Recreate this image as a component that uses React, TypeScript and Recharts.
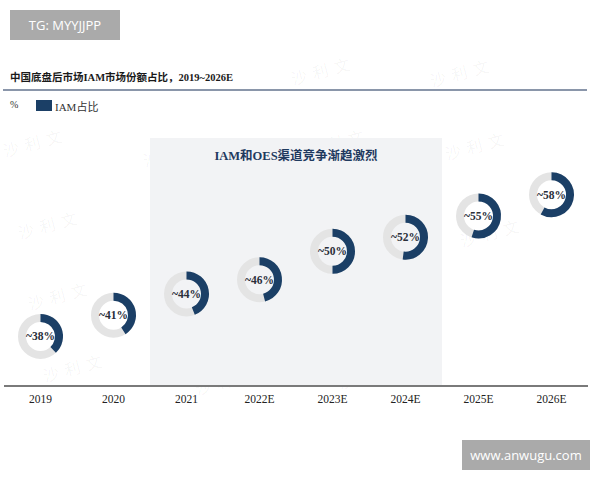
import React from "react";
import {
  ComposedChart,
  ReferenceArea,
  Scatter,
  XAxis,
  YAxis,
} from "recharts";

const years = ["2019", "2020", "2021", "2022E", "2023E", "2024E", "2025E", "2026E"];
const iamShare = [38, 41, 44, 46, 50, 52, 55, 58];
const shareLabels = ["~38%", "~41%", "~44%", "~46%", "~50%", "~52%", "~55%", "~58%"];

const title = "中国底盘后市场IAM市场份额占比，2019~2026E";
const seriesName = "IAM占比";
const highlightText = "IAM和OES渠道竞争渐趋激烈";
const highlightFrom = "2021";
const highlightTo = "2024E";

const NAVY = "#1b3f66";
const TRACK = "#e4e4e4";
const SERIF = "'Liberation Serif', 'Times New Roman', 'Noto Sans CJK SC', serif";

const data = years.map((year, i) => ({
  year,
  value: iamShare[i],
  label: shareLabels[i],
}));

// faint "沙利文" watermarks in the background
const watermarks = [
  [30, 140], [170, 150], [318, 68], [457, 70], [472, 143], [332, 140],
  [45, 222], [190, 222], [342, 228], [487, 230], [55, 293], [215, 293],
  [70, 365], [222, 378], [365, 372],
];

function Donut(props: any) {
  const { cx, cy, payload } = props;
  if (cx == null || cy == null) return null;
  const r = 18.5;
  const p = payload.value / 100;
  const angle = -Math.PI / 2 + p * Math.PI * 2;
  const x1 = cx + r * Math.cos(angle);
  const y1 = cy + r * Math.sin(angle);
  const large = p > 0.5 ? 1 : 0;
  return (
    <g>
      <circle cx={cx} cy={cy} r={r} fill="none" stroke={TRACK} strokeWidth={8} />
      <path
        d={`M ${cx} ${cy - r} A ${r} ${r} 0 ${large} 1 ${x1} ${y1}`}
        fill="none"
        stroke={NAVY}
        strokeWidth={8}
      />
      <text
        x={cx}
        y={cy}
        textAnchor="middle"
        dominantBaseline="central"
        fontFamily={SERIF}
        fontWeight="bold"
        fontSize={11.5}
        fill="#2a2f3a"
      >
        {payload.label}
      </text>
    </g>
  );
}

export default function App() {
  return (
    <div
      style={{
        position: "fixed",
        top: 0,
        left: 0,
        width: 600,
        height: 480,
        background: "#fff",
        overflow: "hidden",
      }}
    >
      {watermarks.map(([x, y], i) => (
        <div
          key={i}
          style={{
            position: "absolute",
            left: x - 28,
            top: y - 10,
            fontFamily: "'Noto Sans CJK SC', sans-serif",
            fontSize: 16,
            letterSpacing: 6,
            color: "rgba(0,0,0,0.045)",
            transform: "rotate(-15deg)",
            whiteSpace: "nowrap",
          }}
        >
          沙利文
        </div>
      ))}

      <div
        style={{
          position: "absolute",
          left: 10,
          top: 10,
          width: 110,
          height: 30,
          background: "#aaaaaa",
          color: "#fff",
          fontFamily: "'Open Sans', sans-serif",
          fontSize: 13,
          lineHeight: "30px",
          textAlign: "center",
        }}
      >
        TG: MYYJJPP
      </div>

      <div
        style={{
          position: "absolute",
          left: 10,
          top: 69,
          fontFamily: SERIF,
          fontWeight: "bold",
          fontSize: 10.5,
          color: "#1a1a1a",
          whiteSpace: "nowrap",
        }}
      >
        {title}
      </div>
      <div
        style={{
          position: "absolute",
          left: 3,
          top: 89,
          width: 584,
          height: 1.5,
          background: "#8a96aa",
        }}
      />

      <div
        style={{
          position: "absolute",
          left: 10,
          top: 99,
          fontFamily: SERIF,
          fontSize: 10,
          color: "#333",
        }}
      >
        %
      </div>
      <div
        style={{
          position: "absolute",
          left: 36,
          top: 100,
          width: 16,
          height: 11,
          background: NAVY,
        }}
      />
      <div
        style={{
          position: "absolute",
          left: 55,
          top: 98,
          fontFamily: SERIF,
          fontSize: 11,
          color: "#333",
          whiteSpace: "nowrap",
        }}
      >
        {seriesName}
      </div>

      <div style={{ position: "absolute", left: 0, top: 0 }}>
        <ComposedChart
          width={600}
          height={480}
          data={data}
          margin={{ top: 138, right: 12, bottom: 64, left: 4 }}
        >
          <ReferenceArea
            x1={highlightFrom}
            x2={highlightTo}
            fill="#f1f2f4"
            fillOpacity={0.9}
            stroke="none"
            label={{
              value: highlightText,
              position: "insideTop",
              offset: 13,
              fill: "#1f3a5f",
              fontFamily: SERIF,
              fontWeight: "bold",
              fontSize: 12.5,
            }}
          />
          <XAxis
            dataKey="year"
            type="category"
            scale="band"
            height={30}
            axisLine={{ stroke: "#7a7a7a", strokeWidth: 2 }}
            tickLine={false}
            tick={{ fill: "#222", fontFamily: SERIF, fontSize: 11.5 }}
            tickMargin={3}
            interval={0}
          />
          <YAxis type="number" domain={[31, 66]} hide />
          <Scatter
            name={seriesName}
            dataKey="value"
            fill={NAVY}
            shape={<Donut />}
            isAnimationActive={false}
          />
        </ComposedChart>
      </div>

      <div
        style={{
          position: "absolute",
          left: 462,
          top: 440,
          width: 128,
          height: 30,
          background: "#aaaaaa",
          color: "#fff",
          fontFamily: "'Open Sans', sans-serif",
          fontSize: 13,
          lineHeight: "30px",
          textAlign: "center",
        }}
      >
        www.anwugu.com
      </div>
    </div>
  );
}
